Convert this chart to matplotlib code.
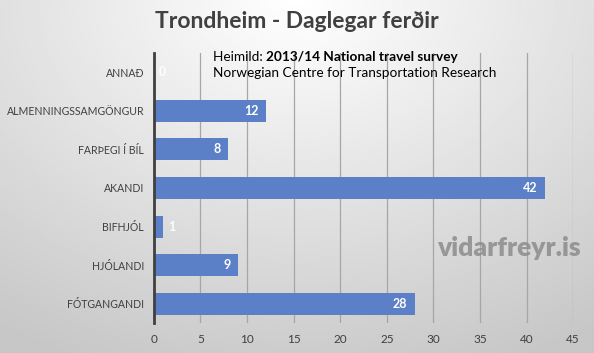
import numpy as np
import matplotlib.pyplot as plt

# Gögn
flokkar = ['ANNAÐ', 'ALMENNINGSSAMGÖNGUR', 'FARÞEGI Í BÍL', 'AKANDI',
           'BIFHJÓL', 'HJÓLANDI', 'FÓTGANGANDI']
gildi = [0, 12, 8, 42, 1, 9, 28]
xticks = [0, 5, 10, 15, 20, 25, 30, 35, 40, 45]

plt.rcParams['font.family'] = ['Lato', 'DejaVu Sans']

fig = plt.figure(figsize=(5.94, 3.53), dpi=100)

# Bakgrunnur með halla (ljóst efst í miðju, grátt út í horn)
bg = fig.add_axes([0, 0, 1, 1], zorder=-10)
yy, xx = np.mgrid[0:1:200j, 0:1:300j]
r = np.sqrt(((xx - 0.5) * 1.1) ** 2 + (yy * 0.9) ** 2)
bg.imshow(1 - 0.22 * np.clip(r, 0, 1), cmap='gray', vmin=0, vmax=1,
          aspect='auto', extent=[0, 1, 1, 0])
bg.axis('off')

ax = fig.add_axes([0.259, 0.085, 0.706, 0.765])
ax.set_facecolor('none')

y = np.arange(len(flokkar))
ax.barh(y, gildi, height=0.57, color='#5b80c8', zorder=3)
ax.set_ylim(len(flokkar) - 0.5, -0.5)
ax.set_xlim(0, 45)
ax.set_xticks(xticks)
ax.set_yticks(y)
ax.set_yticklabels(flokkar, fontsize=7.6)

# Gildi inni í súlunum
for i, v in enumerate(gildi):
    if v >= 3:
        ax.text(v - 0.8, i, str(v), ha='right', va='center', color='white',
                fontsize=9, fontweight='bold', zorder=4)
    else:
        ax.text(v + 0.5, i, str(v), ha='left', va='center', color='white',
                fontsize=9, fontweight='bold', zorder=4, alpha=0.9)

ax.grid(axis='x', color='#a6a6a6', linewidth=0.9, zorder=0)
for s in ['top', 'right', 'bottom']:
    ax.spines[s].set_visible(False)
ax.spines['left'].set_color('#404040')
ax.spines['left'].set_linewidth(2)
ax.spines['left'].set_zorder(5)
ax.tick_params(length=0, colors='#404040', pad=7)
ax.tick_params(axis='x', pad=8, labelsize=8.5)

fig.text(0.5, 0.94, 'Trondheim - Daglegar ferðir', ha='center', va='center',
         fontsize=16.5, fontweight='bold', color='#404040')

t = fig.text(0.359, 0.838, 'Heimild: ', fontsize=9.8, color='black', va='center')
fig.canvas.draw()
bb = t.get_window_extent()
fig.text(bb.x1 / fig.bbox.width, 0.838, '2013/14 National travel survey',
         fontsize=9.8, fontweight='bold', color='black', va='center')
fig.text(0.359, 0.792, 'Norwegian Centre for Transportation Research',
         fontsize=9.8, color='black', va='center')

fig.text(0.977, 0.298, 'vidarfreyr.is', ha='right', va='center',
         fontsize=19, fontweight='heavy', color='#8c8c8c', alpha=0.85)

fig.savefig('out.png', dpi=100)
